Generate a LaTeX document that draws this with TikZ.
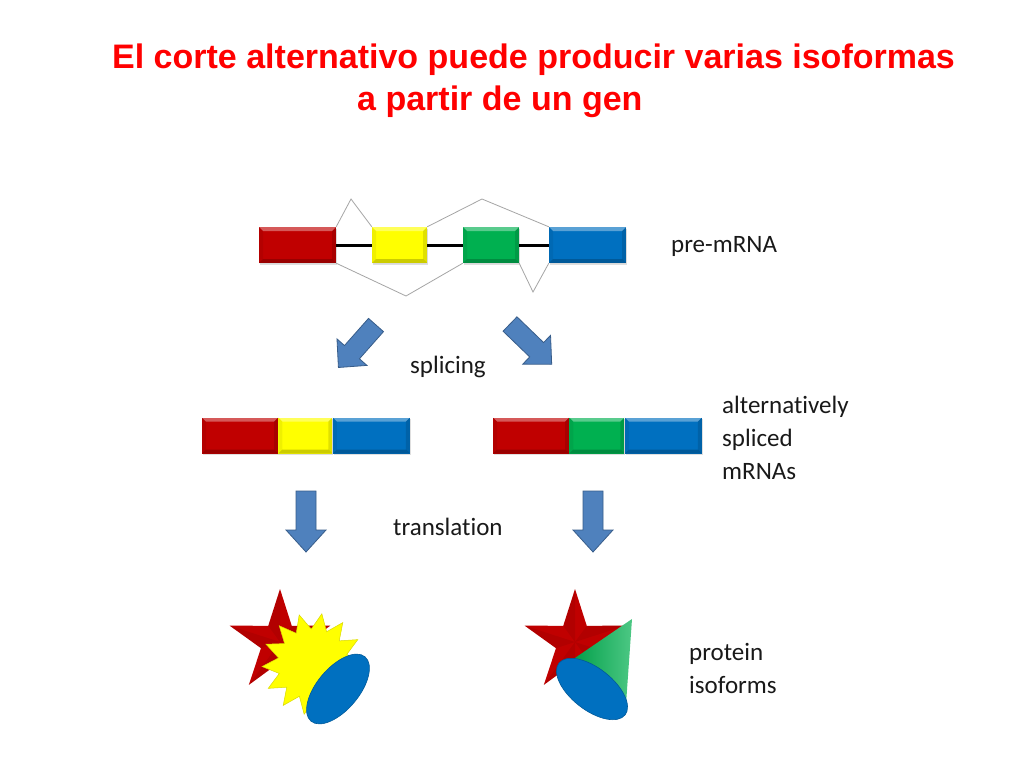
\documentclass[tikz,border=0pt]{standalone}
\usepackage{fontspec}
\setmainfont{Carlito}[RawFeature={-liga}]
\newfontfamily\titulo{Liberation Sans}
\usetikzlibrary{positioning,shadows}
\definecolor{R}{RGB}{192, 0, 0}
\definecolor{Y}{RGB}{255, 255, 0}
\definecolor{G}{RGB}{0, 176, 80}
\definecolor{B}{RGB}{0, 112, 192}
\definecolor{F}{RGB}{79, 129, 189}
\definecolor{FB}{RGB}{56, 93, 138}
\definecolor{T}{RGB}{255, 0, 0}
\definecolor{L}{RGB}{165, 165, 165}

\tikzset{
  bisel/.style={path picture={
    \fill[white, opacity=.35] (path picture bounding box.north west) -- (path picture bounding box.north east)
      -- ([shift={(-4pt,-4pt)}]path picture bounding box.north east) -- ([shift={(4pt,-4pt)}]path picture bounding box.north west) -- cycle;
    \fill[black, opacity=.2] (path picture bounding box.south west) -- (path picture bounding box.south east)
      -- ([shift={(-4pt,4pt)}]path picture bounding box.south east) -- ([shift={(4pt,4pt)}]path picture bounding box.south west) -- cycle;
    \fill[black, opacity=.12] (path picture bounding box.north east) -- (path picture bounding box.south east)
      -- ([shift={(-4pt,4pt)}]path picture bounding box.south east) -- ([shift={(-4pt,-4pt)}]path picture bounding box.north east) -- cycle;
    \fill[black, opacity=.06] (path picture bounding box.north west) -- (path picture bounding box.south west)
      -- ([shift={(4pt,4pt)}]path picture bounding box.south west) -- ([shift={(4pt,-4pt)}]path picture bounding box.north west) -- cycle;
  }},
  exon/.style={rectangle, inner sep=0pt, minimum height=36pt, bisel,
    drop shadow={opacity=.25, shadow xshift=1pt, shadow yshift=-1.5pt}},
  intron/.style={line width=3pt, black},
  corte/.style={L, line width=0.8pt},
  etiqueta/.style={anchor=base west, inner sep=0pt, text=black!90, font=\fontsize{25}{32}\selectfont},
  flecha/.pic={
    \filldraw[fill=F, draw=FB, line width=0.8pt] (0,-10) -- (39,-10) -- (39,-20) -- (61,0)
      -- (39,20) -- (39,10) -- (0,10) -- cycle;
  }
}

\begin{document}
\begin{tikzpicture}[x=1pt, y=-1pt]
  % Fondo
  \fill[white] (0,0) rectangle (1024,768);
  \useasboundingbox (0,0) rectangle (1024,768);

  % Titulo
  \node[anchor=base west, inner sep=0pt, text=T, font=\titulo\bfseries\fontsize{34}{42}\selectfont] (tit1) at (112,68) {El corte alternativo puede producir varias isoformas};
  \node[anchor=base west, inner sep=0pt, text=T, font=\titulo\bfseries\fontsize{34}{42}\selectfont] (tit2) at (357,110) {a partir de un gen};

  % Cortes alternativos (lineas grises)
  \coordinate (k1) at (351,199);
  \coordinate (k2) at (482,199);
  \coordinate (k3) at (406,296);
  \coordinate (k4) at (533,292);

  % pre-mRNA
  \node[exon, fill=R, minimum width=77pt] (r1) at (297.5,245) {};
  \node[exon, fill=Y, minimum width=55pt] (y1) at (399.5,245) {};
  \node[exon, fill=G, minimum width=56pt] (g1) at (491,245) {};
  \node[exon, fill=B, minimum width=77pt] (b1) at (587.5,245) {};
  \draw[intron] (r1.east) -- (y1.west);
  \draw[intron] (y1.east) -- (g1.west);
  \draw[intron] (g1.east) -- (b1.west);

  \draw[corte] (r1.north east) -- (k1) -- (y1.north west);
  \draw[corte] (y1.north east) -- (k2) -- (b1.north west);
  \draw[corte] (r1.south east) -- (k3) -- (g1.south west);
  \draw[corte] (g1.south east) -- (k4) -- (b1.south west);

  % Flechas splicing
  \pic[rotate=-131.5, xscale=.93] at (376,325) {flecha};
  \pic[rotate=-44, xscale=.95] at (510,324) {flecha};

  % mRNAs
  \node[exon, fill=R, minimum width=76pt] (r2) at (240,435.5) {};
  \node[exon, fill=Y, minimum width=54pt, right=0pt of r2] (y2) {};
  \node[exon, fill=B, minimum width=77pt, right=0pt of y2] (b2) {};

  \node[exon, fill=R, minimum width=76pt] (r3) at (531,435.5) {};
  \node[exon, fill=G, minimum width=55pt, right=0pt of r3] (g3) {};
  \node[exon, fill=B, minimum width=77pt, right=0pt of g3] (b3) {};

  % Flechas translation
  \pic[rotate=-90] at (306,491) {flecha};
  \pic[rotate=-90] at (593,491) {flecha};

  % Proteina 1: estrella, explosion, elipse
  \begin{scope}[shift={(280,642)}, yscale=-1]
    \fill[R] (90:53) \foreach \a in {1,...,9}{ -- ({90+36*\a}:{ifthenelse(isodd(\a),20,53)}) } -- cycle;
    \foreach \a in {0,...,4}
      \fill[black, opacity=.07] (0,0) -- ({90+72*\a}:53) -- ({126+72*\a}:20) -- cycle;
  \end{scope}
  \begin{scope}[shift={(313,664)}, yscale=-1]
    \filldraw[fill=Y, draw=Y!85!black, line width=.5pt] (80:51) \foreach \a in {1,...,27}{ -- ({80+12.857*\a}:{ifthenelse(isodd(\a),35,51)}) } -- cycle;
  \end{scope}
  \filldraw[fill=B, draw=B!80!black, line width=.6pt, rotate around={50:(338,689)}] (338,689) ellipse [x radius=42, y radius=21];

  % Proteina 2: estrella, cono, elipse
  \begin{scope}[shift={(575,642)}, yscale=-1]
    \fill[R] (90:53) \foreach \a in {1,...,9}{ -- ({90+36*\a}:{ifthenelse(isodd(\a),20,53)}) } -- cycle;
    \foreach \a in {0,...,4}
      \fill[black, opacity=.07] (0,0) -- ({90+72*\a}:53) -- ({126+72*\a}:20) -- cycle;
  \end{scope}
  \shade[left color=G!90!black, right color=G!70!white] (632,619) -- (572,660) -- (626,704) -- cycle;
  \filldraw[fill=B, draw=B!80!black, line width=.6pt, rotate around={-38:(592,689)}] (592,689) ellipse [x radius=42, y radius=21];

  % Etiquetas
  \node[etiqueta] (pre) at (671,252) {pre-mRNA};
  \node[etiqueta] (spl) at (410,373) {splicing};
  \node[etiqueta] (alt1) at (722,413) {alternatively};
  \node[etiqueta] (alt2) at (722,446) {spliced};
  \node[etiqueta] (alt3) at (722,479) {mRNAs};
  \node[etiqueta] (tra) at (393,535) {translation};
  \node[etiqueta] (pro1) at (689,660) {protein};
  \node[etiqueta] (pro2) at (689,693) {isoforms};
\end{tikzpicture}
\end{document}
